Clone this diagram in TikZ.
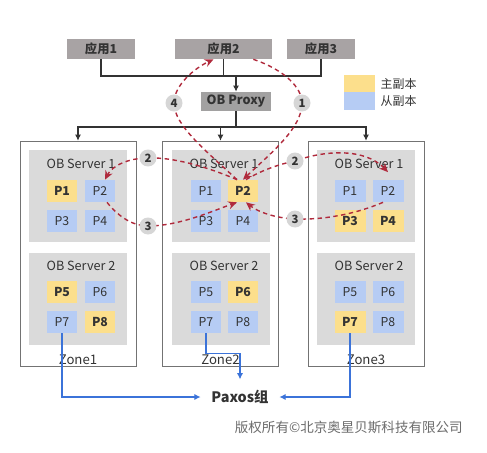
\documentclass[tikz,border=0pt]{standalone}
\usepackage{fontspec}
\setmainfont{Noto Sans CJK SC}
\usepackage{tikz}
\usetikzlibrary{positioning,arrows.meta}

\definecolor{appgray}{HTML}{A8A3A4}
\definecolor{proxygray}{HTML}{A2A1A1}
\definecolor{srvgray}{HTML}{DADADA}
\definecolor{primary}{HTML}{FCDF8C}
\definecolor{replica}{HTML}{B6CCF4}
\definecolor{flowred}{HTML}{B02A3C}
\definecolor{paxblue}{HTML}{3B73D9}
\definecolor{numgray}{HTML}{D6D6D6}
\definecolor{txtgray}{HTML}{333333}

\begin{document}
\begin{tikzpicture}[
  x=0.02cm, y=-0.02cm,
  app/.style={rectangle, fill=appgray, font=\fontsize{7}{8}\selectfont\bfseries, text=txtgray, minimum width=1.36cm, minimum height=0.4cm, inner sep=0pt},
  proxy/.style={rectangle, fill=proxygray, font=\fontsize{7.2}{8}\selectfont\bfseries, text=txtgray, minimum width=1.4cm, minimum height=0.38cm, inner sep=0pt},
  zone/.style={rectangle, draw=gray!90!black, fill=white, minimum width=2.32cm, minimum height=4.5cm, inner sep=0pt},
  zonelbl/.style={font=\fontsize{7.5}{8}\selectfont, text=txtgray, inner sep=1pt},
  server/.style={rectangle, fill=srvgray, minimum width=1.96cm, minimum height=1.84cm, inner sep=0pt},
  srvtitle/.style={font=\fontsize{7.2}{8}\selectfont, text=txtgray, inner sep=0pt},
  pri/.style={rectangle, fill=primary, font=\fontsize{7}{8}\selectfont\bfseries, text=txtgray, minimum width=0.62cm, minimum height=0.44cm, inner sep=0pt},
  rep/.style={pri, fill=replica, font=\fontsize{7}{8}\selectfont},
  legbox/.style={rectangle, minimum width=0.62cm, minimum height=0.35cm, inner sep=0pt},
  legtxt/.style={font=\fontsize{6.8}{8}\selectfont, text=txtgray, inner sep=0pt},
  numcirc/.style={circle, fill=numgray, text=txtgray, font=\fontsize{6.5}{8}\selectfont\bfseries, minimum size=0.34cm, inner sep=0pt},
  tree/.style={draw=gray!40!black, line width=0.6pt},
  treearrow/.style={tree, -{Latex[length=3.5pt,width=3.5pt]}},
  pax/.style={draw=paxblue, line width=0.6pt, -{Latex[length=3.5pt,width=3.5pt]}},
  flow/.style={draw=flowred, line width=0.8pt, dash pattern=on 2.5pt off 2pt, -{Stealth[length=5pt,width=4.5pt]}}
]
  \useasboundingbox[fill=white] (0,0) rectangle (487,453);

  % Applications and proxy
  \node[app] (app1) at (101,49) {应用1};
  \node[app, minimum width=1.94cm] (app2) at (223.5,49) {应用2};
  \node[app] (app3) at (321,49) {应用3};
  \node[proxy] (proxy) at (236,101.5) {OB Proxy};

  % Legend
  \node[legbox, fill=primary] (legpri) at (359.5,83.5) {};
  \node[legbox, fill=replica] (legrep) at (359.5,101) {};
  \node[legtxt, right=0.1cm of legpri] (legpritxt) {主副本};
  \node[legtxt, right=0.1cm of legrep] (legreptxt) {从副本};

  % Zones
  \node[zone] (zone1) at (78,253.5) {};
  \node[zone] (zone2) at (220.5,253.5) {};
  \node[zone] (zone3) at (366,253.5) {};
  \node[zonelbl, above=0pt of zone1.south] (zl1) {Zone1};
  \node[zonelbl, above=0pt of zone2.south] (zl2) {Zone2};
  \node[zonelbl, above=0pt of zone3.south] (zl3) {Zone3};

  % Zone1 servers
  \node[server] (z1s1) at (78,196) {};
  \node[srvtitle] (z1s1t) at (81,164) {OB Server 1};
  \node[pri] (z1s1p1) at (62,191) {P1};
  \node[rep] (z1s1p2) at (100,191) {P2};
  \node[rep] (z1s1p3) at (62,221) {P3};
  \node[rep] (z1s1p4) at (100,221) {P4};
  \node[server] (z1s2) at (78,299) {};
  \node[srvtitle] (z1s2t) at (81,266) {OB Server 2};
  \node[pri] (z1s2p5) at (62,292) {P5};
  \node[rep] (z1s2p6) at (100,292) {P6};
  \node[rep] (z1s2p7) at (62,322) {P7};
  \node[pri] (z1s2p8) at (100,322) {P8};

  % Zone2 servers
  \node[server] (z2s1) at (221,196) {};
  \node[srvtitle] (z2s1t) at (224,164) {OB Server 1};
  \node[rep] (z2s1p1) at (206,191) {P1};
  \node[pri] (z2s1p2) at (243,191) {P2};
  \node[rep] (z2s1p3) at (206,221) {P3};
  \node[rep] (z2s1p4) at (243,221) {P4};
  \node[server] (z2s2) at (221,299) {};
  \node[srvtitle] (z2s2t) at (224,266) {OB Server 2};
  \node[rep] (z2s2p5) at (206,292) {P5};
  \node[pri] (z2s2p6) at (243,292) {P6};
  \node[rep] (z2s2p7) at (206,322) {P7};
  \node[rep] (z2s2p8) at (243,322) {P8};

  % Zone3 servers
  \node[server] (z3s1) at (366,196) {};
  \node[srvtitle] (z3s1t) at (369,164) {OB Server 1};
  \node[rep] (z3s1p1) at (350,191) {P1};
  \node[rep] (z3s1p2) at (388,191) {P2};
  \node[pri] (z3s1p3) at (350,221) {P3};
  \node[pri] (z3s1p4) at (388,221) {P4};
  \node[server] (z3s2) at (366,299) {};
  \node[srvtitle] (z3s2t) at (369,266) {OB Server 2};
  \node[rep] (z3s2p5) at (350,292) {P5};
  \node[rep] (z3s2p6) at (388,292) {P6};
  \node[pri] (z3s2p7) at (350,322) {P7};
  \node[rep] (z3s2p8) at (388,322) {P8};

  % Request routing
  \coordinate (busA) at (236,76);
  \coordinate (busB) at (236,127);
  \draw[tree] (app1.south) |- (busA) -| (app3.south);
  \draw[tree] (app2.south) -- (app2.south |- busA);
  \draw[treearrow] (busA) -- (proxy.north);
  \draw[tree] (proxy.south) -- (busB);
  \draw[treearrow] (busB) -| (zone1.north);
  \draw[treearrow] (busB) -| (zone3.north);
  \draw[treearrow] (zone2.north |- busB) -- (zone2.north);

  % Paxos group
  \node[font=\fontsize{8.2}{9}\selectfont\bfseries, text=txtgray, inner sep=6pt] (paxos) at (240,397) {Paxos组};
  \draw[pax] (z1s2p7.south) |- (paxos.west);
  \draw[pax] (z2s2p7.south) -- ++(0,20) -| (paxos.north);
  \draw[pax] (z3s2p7.south) |- (paxos.east);

  % Write path through the leader P2
  \coordinate (s1) at (302,103);
  \coordinate (s4) at (174,103);
  \coordinate (s2l) at (148,158);
  \coordinate (s3l) at (148,226);
  \coordinate (s2r) at (295,161);
  \coordinate (s3r) at (295,219);
  \draw[flow] ([xshift=-0.38cm]app2.south east) .. controls (285,70) and (302,88) .. (s1)
    .. controls (302,128) and (272,152) .. (z2s1p2.north);
  \draw[flow] ([xshift=-0.12cm]z2s1p2.north) .. controls (205,150) and (174,125) .. (s4)
    .. controls (174,85) and (195,68) .. ([xshift=-0.2cm]app2.south);
  \draw[flow] ([xshift=-0.12cm]z2s1p2.north) .. controls (205,166) and (172,157) .. (s2l)
    .. controls (128,158) and (112,166) .. ([xshift=0.1cm]z1s1p2.north);
  \draw[flow] ([xshift=0.14cm]z1s1p2.south) .. controls (118,216) and (132,226) .. (s3l)
    .. controls (180,226) and (215,210) .. ([xshift=-0.12cm]z2s1p2.south);
  \draw[flow] ([xshift=0.06cm]z2s1p2.north) .. controls (262,170) and (280,164) .. (s2r)
    .. controls (325,150) and (365,148) .. ([yshift=0.15cm]z3s1p2.north);
  \draw[flow] ([xshift=-0.1cm]z3s1p2.south) .. controls (360,212) and (330,220) .. (s3r)
    .. controls (275,218) and (258,212) .. ([xshift=0.06cm]z2s1p2.south);
  \node[numcirc] (c1) at (s1) {1};
  \node[numcirc] (c4) at (s4) {4};
  \node[numcirc] (c2l) at (s2l) {2};
  \node[numcirc] (c3l) at (s3l) {3};
  \node[numcirc] (c2r) at (s2r) {2};
  \node[numcirc] (c3r) at (s3r) {3};

  % Copyright
  \node[font=\fontsize{7.7}{9}\selectfont, text=gray!85!black, anchor=east, inner sep=0pt] (copyr) at (463,427) {版权所有©北京奥星贝斯科技有限公司};
\end{tikzpicture}
\end{document}
